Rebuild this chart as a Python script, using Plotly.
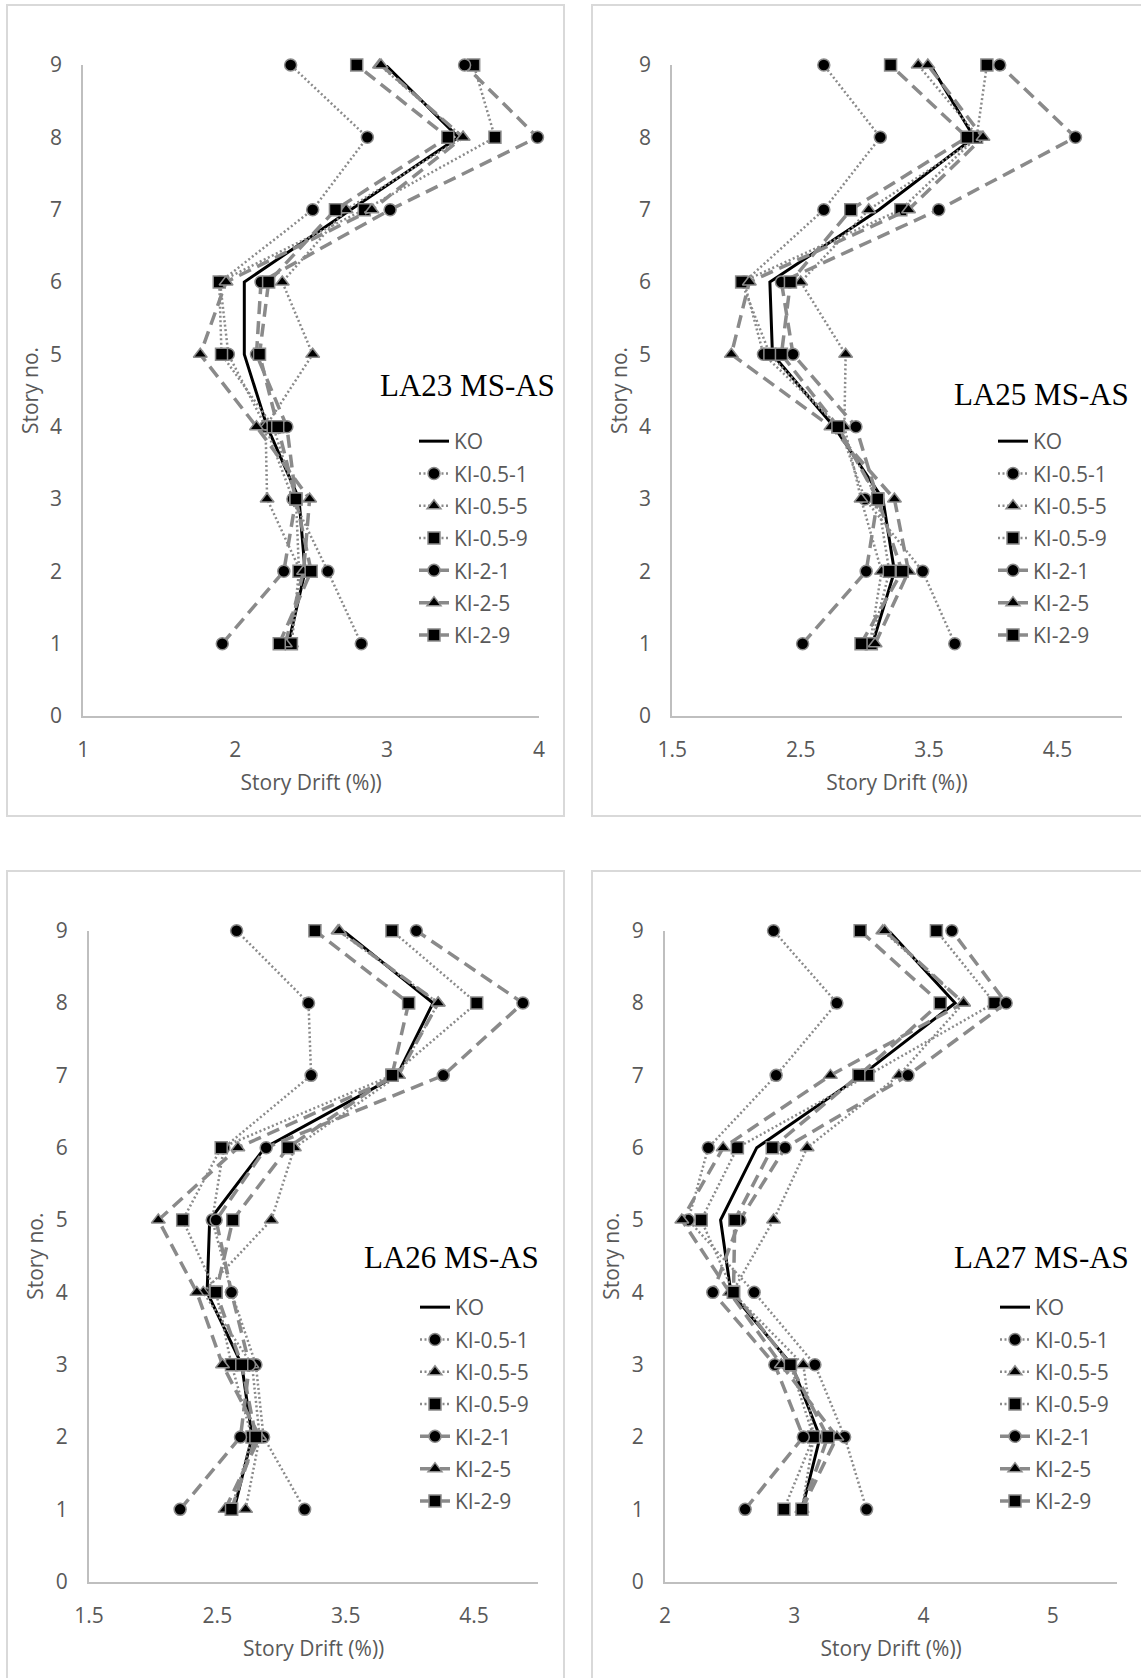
import plotly.graph_objects as go

W, H = 1141, 1678

stories = [1, 2, 3, 4, 5, 6, 7, 8, 9]
series_names = ["KO", "KI-0.5-1", "KI-0.5-5", "KI-0.5-9", "KI-2-1", "KI-2-5", "KI-2-9"]
y_ticks = [0, 1, 2, 3, 4, 5, 6, 7, 8, 9]

# ---- LA23 MS-AS (story 1..9) ----
la23_ko = [2.35, 2.46, 2.42, 2.21, 2.06, 2.06, 2.76, 3.47, 2.99]
la23_ki05_1 = [2.83, 2.61, 2.38, 2.20, 1.955, 1.90, 2.51, 2.87, 2.365]
la23_ki05_5 = [2.37, 2.43, 2.21, 2.20, 2.51, 2.31, 2.73, 3.50, 2.95]
la23_ki05_9 = [2.37, 2.42, 2.40, 2.25, 1.91, 1.895, 2.85, 3.71, 3.57]
la23_ki2_1 = [1.915, 2.32, 2.40, 2.34, 2.14, 2.17, 3.02, 3.99, 3.51]
la23_ki2_5 = [2.33, 2.45, 2.49, 2.14, 1.77, 1.94, 2.90, 3.50, 2.96]
la23_ki2_9 = [2.29, 2.50, 2.40, 2.28, 2.16, 2.22, 2.66, 3.40, 2.80]

# ---- LA25 MS-AS ----
la25_ko = [3.06, 3.23, 3.14, 2.76, 2.28, 2.26, 3.11, 3.85, 3.51]
la25_ki05_1 = [3.70, 3.45, 3.00, 2.80, 2.21, 2.06, 2.68, 3.12, 2.68]
la25_ki05_5 = [3.04, 3.13, 2.97, 2.84, 2.85, 2.50, 3.03, 3.885, 3.415]
la25_ki05_9 = [3.05, 3.19, 3.10, 2.79, 2.26, 2.04, 3.28, 3.87, 3.95]
la25_ki2_1 = [2.515, 3.01, 3.10, 2.93, 2.44, 2.35, 3.575, 4.64, 4.05]
la25_ki2_5 = [3.08, 3.34, 3.23, 2.735, 1.96, 2.10, 3.34, 3.92, 3.49]
la25_ki2_9 = [2.97, 3.29, 3.10, 2.79, 2.35, 2.42, 2.89, 3.795, 3.20]

# ---- LA26 MS-AS ----
la26_ko = [2.63, 2.77, 2.69, 2.42, 2.44, 2.87, 3.90, 4.18, 3.48]
la26_ki05_1 = [3.18, 2.86, 2.80, 2.61, 2.46, 2.55, 3.23, 3.21, 2.65]
la26_ki05_5 = [2.72, 2.83, 2.77, 2.39, 2.92, 3.10, 3.91, 4.22, 3.44]
la26_ki05_9 = [2.61, 2.77, 2.61, 2.49, 2.23, 2.53, 3.86, 4.52, 3.86]
la26_ki2_1 = [2.21, 2.68, 2.75, 2.61, 2.49, 2.88, 4.26, 4.88, 4.05]
la26_ki2_5 = [2.56, 2.83, 2.54, 2.34, 2.04, 2.66, 3.91, 4.22, 3.45]
la26_ki2_9 = [2.61, 2.80, 2.69, 2.49, 2.62, 3.05, 3.86, 3.99, 3.26]

# ---- LA27 MS-AS ----
la27_ko = [3.06, 3.20, 2.98, 2.51, 2.43, 2.71, 3.52, 4.245, 3.73]
la27_ki05_1 = [3.56, 3.39, 3.16, 2.69, 2.18, 2.335, 2.86, 3.33, 2.84]
la27_ki05_5 = [3.06, 3.15, 3.07, 2.52, 2.84, 3.10, 3.81, 4.31, 3.685]
la27_ki05_9 = [2.92, 3.15, 2.97, 2.53, 2.28, 2.56, 3.57, 4.55, 4.10]
la27_ki2_1 = [2.62, 3.07, 2.85, 2.37, 2.58, 2.93, 3.88, 4.64, 4.22]
la27_ki2_5 = [3.06, 3.33, 2.90, 2.50, 2.13, 2.45, 3.28, 4.31, 3.70]
la27_ki2_9 = [3.06, 3.26, 2.97, 2.53, 2.54, 2.83, 3.50, 4.13, 3.51]

panel_titles = ["LA23 MS-AS", "LA25 MS-AS", "LA26 MS-AS", "LA27 MS-AS"]
x_ranges = [[1, 4], [1.5, 5], [1.5, 5], [2, 5.5]]
x_tick0 = [1, 1.5, 1.5, 2]

panel_data = [
    [la23_ko, la23_ki05_1, la23_ki05_5, la23_ki05_9, la23_ki2_1, la23_ki2_5, la23_ki2_9],
    [la25_ko, la25_ki05_1, la25_ki05_5, la25_ki05_9, la25_ki2_1, la25_ki2_5, la25_ki2_9],
    [la26_ko, la26_ki05_1, la26_ki05_5, la26_ki05_9, la26_ki2_1, la26_ki2_5, la26_ki2_9],
    [la27_ko, la27_ki05_1, la27_ki05_5, la27_ki05_9, la27_ki2_1, la27_ki2_5, la27_ki2_9],
]

# ---- layout geometry (pixels) ----
def xp(px):
    return px / W

def yp(py):
    return 1 - py / H

plot_x = [(83.3, 539.0), (672.3, 1121.7), (89.0, 538.3), (665.0, 1117.3)]
plot_y = [(65.0, 716.0), (65.0, 716.0), (930.7, 1581.7), (930.7, 1581.7)]
title_pos = [(378, 386), (951.7, 394), (361.7, 1257.5), (951.7, 1257.5)]
legend_pos = [(414, 421), (993, 421), (415, 1287), (995, 1287)]
panel_box = [(7, 5, 564, 816), (592, 5, 1150, 816), (7, 871, 564, 1690), (592, 871, 1150, 1690)]

GRAY_TXT = "#595959"
AXIS_COL = "#bfbfbf"
LINE_GRAY = "#8a8a8a"
FONT = "Open Sans"

styles = {
    "KO": dict(line=dict(color="black", width=3), mode="lines", symbol=None),
    "KI-0.5-1": dict(line=dict(color=LINE_GRAY, width=2.5, dash="2px,2.5px"), mode="lines+markers", symbol="circle"),
    "KI-0.5-5": dict(line=dict(color=LINE_GRAY, width=2.5, dash="2px,2.5px"), mode="lines+markers", symbol="triangle-up"),
    "KI-0.5-9": dict(line=dict(color=LINE_GRAY, width=2.5, dash="2px,2.5px"), mode="lines+markers", symbol="square"),
    "KI-2-1": dict(line=dict(color=LINE_GRAY, width=3.5, dash="13px,7px"), mode="lines+markers", symbol="circle"),
    "KI-2-5": dict(line=dict(color=LINE_GRAY, width=3.5, dash="13px,7px"), mode="lines+markers", symbol="triangle-up"),
    "KI-2-9": dict(line=dict(color=LINE_GRAY, width=3.5, dash="13px,7px"), mode="lines+markers", symbol="square"),
}

fig = go.Figure()
layout = dict(
    template="none",
    width=W, height=H, autosize=False,
    margin=dict(l=0, r=0, t=0, b=0, pad=0, autoexpand=False),
    paper_bgcolor="white", plot_bgcolor="white",
    font=dict(family=FONT, size=21, color=GRAY_TXT),
    showlegend=True,
)
shapes = []
annotations = []

for i in range(4):
    sfx = "" if i == 0 else str(i + 1)
    xa = "x" + sfx
    ya = "y" + sfx
    leg = "legend" + sfx
    for name, vals in zip(series_names, panel_data[i]):
        st = styles[name]
        kw = dict(
            x=vals, y=stories, name=name, mode=st["mode"], line=st["line"],
            xaxis=xa, yaxis=ya, legend=leg, legendgroup=name + sfx, cliponaxis=False,
        )
        if st["symbol"]:
            kw["marker"] = dict(symbol=st["symbol"], size=12, color="black",
                                line=dict(color="#8c8c8c", width=1.5))
        fig.add_trace(go.Scatter(**kw))

    x0, x1 = plot_x[i]
    y0, y1 = plot_y[i]
    layout["xaxis" + sfx] = dict(
        domain=[xp(x0), xp(x1)], range=x_ranges[i], anchor=ya, automargin=False,
        tick0=x_tick0[i], dtick=1, showgrid=False, zeroline=False,
        showline=True, linecolor=AXIS_COL, linewidth=2, ticks="",
        ticklabelstandoff=14, tickfont=dict(size=21, color=GRAY_TXT),
        title=dict(text="Story Drift (%))", font=dict(size=21, color=GRAY_TXT), standoff=13),
    )
    layout["yaxis" + sfx] = dict(
        domain=[yp(y1), yp(y0)], range=[0, 9], anchor=xa, automargin=False,
        tickvals=y_ticks, showgrid=False, zeroline=False,
        showline=True, linecolor=AXIS_COL, linewidth=2, ticks="",
        ticklabelstandoff=15, tickfont=dict(size=21, color=GRAY_TXT),
        title=dict(text="Story no.", font=dict(size=21, color=GRAY_TXT), standoff=6),
    )
    lx, ly = legend_pos[i]
    layout[leg] = dict(
        x=xp(lx), y=yp(ly), xanchor="left", yanchor="top",
        bgcolor="rgba(0,0,0,0)", borderwidth=0, tracegroupgap=2,
        font=dict(family=FONT, size=21, color=GRAY_TXT),
    )
    tx, ty = title_pos[i]
    annotations.append(dict(
        text=panel_titles[i], x=xp(tx), y=yp(ty), xref="paper", yref="paper",
        xanchor="left", yanchor="middle", showarrow=False,
        font=dict(family="Liberation Serif", size=31, color="black"),
    ))
    bx0, by0, bx1, by1 = panel_box[i]
    shapes.append(dict(
        type="rect", xref="paper", yref="paper",
        x0=xp(bx0), x1=xp(bx1), y0=yp(by1), y1=yp(by0),
        line=dict(color="#d9d9d9", width=2), fillcolor="rgba(0,0,0,0)", layer="below",
    ))

layout["shapes"] = shapes
layout["annotations"] = annotations
fig.update_layout(**layout)

fig.write_html("out.html", config={"displayModeBar": False},
               post_script="document.body.style.margin='0px';")
